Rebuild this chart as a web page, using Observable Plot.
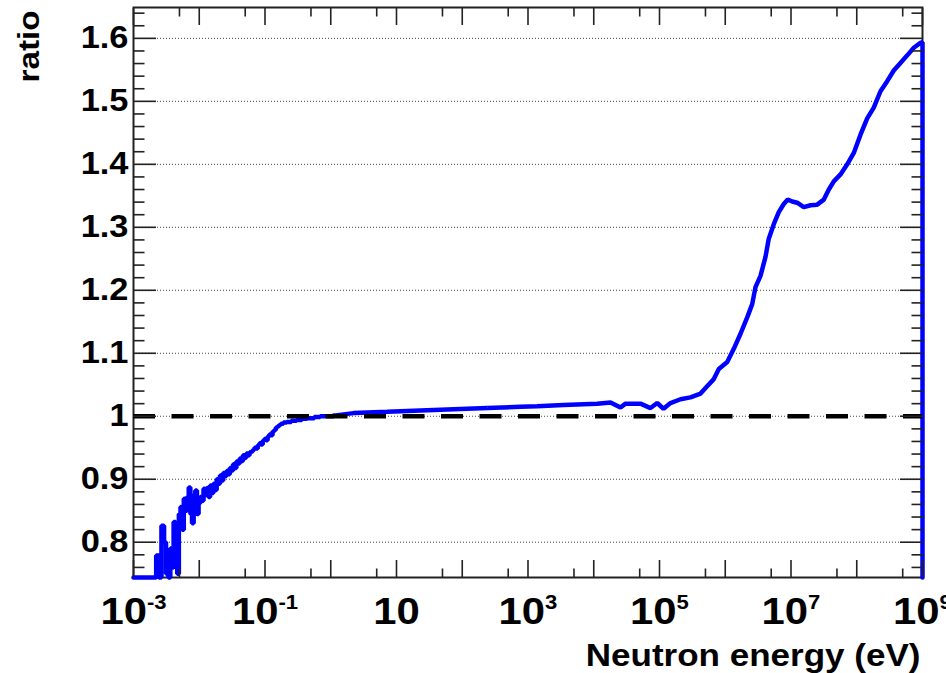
<!DOCTYPE html>
<html>
<head>
<meta charset="utf-8">
<script src="https://cdn.jsdelivr.net/npm/d3@7"></script>
<script src="https://cdn.jsdelivr.net/npm/@observablehq/plot@0.6"></script>
<style>
  html, body { margin: 0; padding: 0; background: #fff; }
  #wrap { position: relative; width: 946px; height: 673px; }
  #wrap svg { display: block; }
  #wrap svg.ticks { position: absolute; left: 0; top: 0; pointer-events: none; }
</style>
</head>
<body>
<div id="wrap"></div>
<script>
// Ratio vs neutron energy. Energies are given as decimal exponents (E = 10^exp eV).

// Low-energy part: histogram bins (left edge exponent, ratio), drawn as steps.
const lowExp = [-3.000, -2.655, -2.615, -2.575, -2.535, -2.505, -2.470, -2.440, -2.410, -2.390,
  -2.360, -2.335, -2.310, -2.285, -2.260, -2.235, -2.210, -2.185, -2.160, -2.135,
  -2.110, -2.085, -2.060, -2.035, -2.010, -1.985, -1.960, -1.935, -1.910, -1.885,
  -1.860, -1.835, -1.810, -1.785, -1.760, -1.735, -1.710, -1.685, -1.660, -1.635,
  -1.610, -1.585, -1.560, -1.535, -1.510, -1.485, -1.460, -1.435, -1.410, -1.385,
  -1.360, -1.335, -1.310, -1.285, -1.260, -1.235, -1.210, -1.185, -1.160, -1.135,
  -1.110, -1.085, -1.060, -1.035, -1.010, -0.985, -0.960, -0.935, -0.910, -0.885,
  -0.860, -0.835, -0.810, -0.785, -0.760, -0.720, -0.670, -0.600, -0.520, -0.440,
  -0.360, -0.250, -0.161, 0.042];
const lowRatio = [0.700, 0.779, 0.700, 0.826, 0.800, 0.750, 0.740, 0.790, 0.760, 0.832,
  0.800, 0.750, 0.845, 0.856, 0.820, 0.869, 0.850, 0.872, 0.887, 0.845,
  0.830, 0.875, 0.882, 0.845, 0.862, 0.872, 0.866, 0.885, 0.875, 0.886,
  0.872, 0.890, 0.878, 0.893, 0.883, 0.900, 0.893, 0.906, 0.898, 0.910,
  0.905, 0.913, 0.908, 0.918, 0.914, 0.924, 0.918, 0.928, 0.925, 0.933,
  0.929, 0.938, 0.934, 0.941, 0.938, 0.943, 0.944, 0.947, 0.950, 0.949,
  0.954, 0.957, 0.955, 0.961, 0.964, 0.962, 0.968, 0.971, 0.970, 0.976,
  0.978, 0.982, 0.984, 0.986, 0.988, 0.990, 0.991, 0.993, 0.994, 0.996,
  0.997, 0.999, 1.000, 1.001];

// Epithermal to high-energy part.
const highExp = [0.042, 0.346, 0.859, 1.365, 1.867, 2.380, 2.886, 3.140, 3.540, 4.052,
  4.255, 4.407, 4.483, 4.711, 4.863, 4.965, 5.061, 5.167, 5.319, 5.471,
  5.624, 5.700, 5.826, 5.902, 6.030, 6.130, 6.232, 6.334, 6.410, 6.460,
  6.536, 6.612, 6.662, 6.738, 6.814, 6.890, 6.951, 7.018, 7.094, 7.195,
  7.297, 7.398, 7.499, 7.575, 7.651, 7.753, 7.855, 7.955, 8.057, 8.159,
  8.259, 8.361, 8.463, 8.563, 8.665, 8.768, 8.868, 8.970, 9, 9];
const highRatio = [1.001, 1.005, 1.007, 1.009, 1.011, 1.013, 1.015, 1.016, 1.018, 1.020,
  1.022, 1.014, 1.020, 1.020, 1.013, 1.021, 1.012, 1.021, 1.027, 1.030,
  1.036, 1.045, 1.059, 1.075, 1.086, 1.107, 1.131, 1.157, 1.178, 1.205,
  1.223, 1.253, 1.282, 1.305, 1.324, 1.337, 1.344, 1.341, 1.339, 1.332,
  1.335, 1.336, 1.344, 1.360, 1.373, 1.384, 1.400, 1.418, 1.447, 1.473,
  1.490, 1.516, 1.532, 1.549, 1.561, 1.573, 1.585, 1.593, 1.594, 0.70];

// Axis ticks
const xMajorExp = [-3, -2, -1, 0, 1, 2, 3, 4, 5, 6, 7, 8, 9];
const xLabelExp = [-3, -1, 1, 3, 5, 7, 9];
const xMinorMantissa = 5;
const yMajor = [0.8, 0.9, 1.0, 1.1, 1.2, 1.3, 1.4, 1.5, 1.6];
const yMinor = [0.76, 0.78, 0.82, 0.84, 0.86, 0.88, 0.92, 0.94, 0.96, 0.98,
  1.02, 1.04, 1.06, 1.08, 1.12, 1.14, 1.16, 1.18, 1.22, 1.24, 1.26, 1.28,
  1.32, 1.34, 1.36, 1.38, 1.42, 1.44, 1.46, 1.48, 1.52, 1.54, 1.56, 1.58,
  1.62, 1.64];
const referenceLevel = 1;

const xTitle = "Neutron energy (eV)";
const yTitle = "ratio";

const font = "'Liberation Sans', Arial, Helvetica, sans-serif";
const ink = "#222";

const low = lowExp.map((e, i) => ({E: 10 ** e, r: lowRatio[i]}));
const high = highExp.map((e, i) => ({E: 10 ** e, r: highRatio[i]}));
const xMajor = xMajorExp.map(e => 10 ** e);
const xMinor = xMajorExp.slice(0, -1).map(e => xMinorMantissa * 10 ** e);
const xLabels = xLabelExp.map(e => 10 ** e);

// Shared geometry and scales for the chart and its tick layer
const layout = {
  width: 946,
  height: 673,
  marginLeft: 133,
  marginRight: 24,
  marginTop: 7,
  marginBottom: 96,
  x: {type: "log", domain: [1e-3, 1e9]},
  y: {domain: [0.744, 1.649], clamp: true}
};

const wrap = document.getElementById("wrap");

const chart = Plot.plot({
  ...layout,
  style: {fontFamily: font, background: "#fff", color: "#000"},
  marks: [
    Plot.gridY(yMajor, {stroke: "#444", strokeOpacity: 1, strokeWidth: 1, strokeDasharray: "1,2"}),
    Plot.frame({stroke: ink, strokeWidth: 2}),
    // tick labels
    Plot.axisX(xLabels, {
      anchor: "bottom", tickSize: 0, tickPadding: 20, label: null,
      fontSize: 37, fontWeight: "bold", fill: "#000",
      tickFormat: d => { const e = Math.round(Math.log10(d)); return e === 1 ? "10" : "10^" + e; }
    }),
    Plot.axisY(yMajor, {
      anchor: "left", tickSize: 0, tickPadding: 5, label: null,
      fontSize: 30.7, fontWeight: "bold", fill: "#000",
      tickFormat: d => String(+d.toFixed(1))
    }),
    // ratio curve
    Plot.line(low, {x: "E", y: "r", curve: "step-after", stroke: "#0000ff", strokeWidth: 4.5, strokeLinejoin: "miter"}),
    Plot.line(high, {x: "E", y: "r", stroke: "#0000ff", strokeWidth: 4.5, strokeLinejoin: "miter"}),
    // unity reference
    Plot.ruleY([referenceLevel], {stroke: "#000", strokeWidth: 4.5, strokeDasharray: "22,16.5"}),
    // axis titles
    Plot.text([xTitle], {text: d => d, frameAnchor: "bottom-right", textAnchor: "end", lineAnchor: "bottom",
      dx: -2, dy: 88, fontSize: 31, fontWeight: "bold", fill: "#000"}),
    Plot.text([yTitle], {text: d => d, frameAnchor: "top-left", rotate: -90, textAnchor: "end", lineAnchor: "bottom",
      dx: -95, dy: 3, fontSize: 29, fontWeight: "bold", fill: "#000"})
  ]
});
wrap.appendChild(chart);

// Inward-pointing ticks on all four sides, drawn as a transparent layer over the chart:
// an outward axis tick shifted back into the frame by its own length.
const noLabel = {tickFormat: () => "", label: null, tickPadding: 0, stroke: ink, strokeWidth: 1.6};
const inwardX = (data, len, anchor) =>
  Plot.axisX(data, {anchor, tickSize: len, dy: anchor === "bottom" ? -len : len, ...noLabel});
const inwardY = (data, len, anchor) =>
  Plot.axisY(data, {anchor, tickSize: len, dx: anchor === "left" ? len : -len, ...noLabel});

const tickLayer = Plot.plot({
  ...layout,
  className: "ticks",
  style: {background: "transparent", color: ink},
  marks: [
    inwardX(xMajor, 17, "bottom"),
    inwardX(xMinor, 8.5, "bottom"),
    inwardX(xMajor, 17, "top"),
    inwardX(xMinor, 8.5, "top"),
    inwardY(yMajor, 23, "left"),
    inwardY(yMinor, 11.5, "left"),
    inwardY(yMajor, 23, "right"),
    inwardY(yMinor, 11.5, "right")
  ]
});
tickLayer.classList.add("ticks");
wrap.appendChild(tickLayer);

// Superscript exponents on the x tick labels
const SVGNS = "http://www.w3.org/2000/svg";
chart.querySelectorAll('g[aria-label="x-axis tick label"] text').forEach(t => {
  const s = t.textContent;
  const k = s.indexOf("^");
  if (k < 0) return;
  t.textContent = "";
  const base = document.createElementNS(SVGNS, "tspan");
  base.textContent = s.slice(0, k);
  const sup = document.createElementNS(SVGNS, "tspan");
  sup.textContent = s.slice(k + 1);
  sup.setAttribute("dy", "-15");
  sup.setAttribute("font-size", "19.5");
  t.appendChild(base);
  t.appendChild(sup);
});

// Slightly wide lettering
function widen(sel, factor) {
  chart.querySelectorAll(sel).forEach(t => {
    const len = t.getComputedTextLength();
    if (!len) return;
    t.setAttribute("textLength", (len * factor).toFixed(1));
    t.setAttribute("lengthAdjust", "spacingAndGlyphs");
  });
}
widen('g[aria-label="x-axis tick label"] text', 1.13);
widen('g[aria-label="y-axis tick label"] text', 1.12);
chart.querySelectorAll('g[aria-label="text"] text').forEach(t => {
  t.setAttribute("lengthAdjust", "spacingAndGlyphs");
  if (t.textContent === xTitle) t.setAttribute("textLength", (t.getComputedTextLength() * 1.13).toFixed(1));
  if (t.textContent === yTitle) t.setAttribute("textLength", "72");
});
</script>
</body>
</html>
